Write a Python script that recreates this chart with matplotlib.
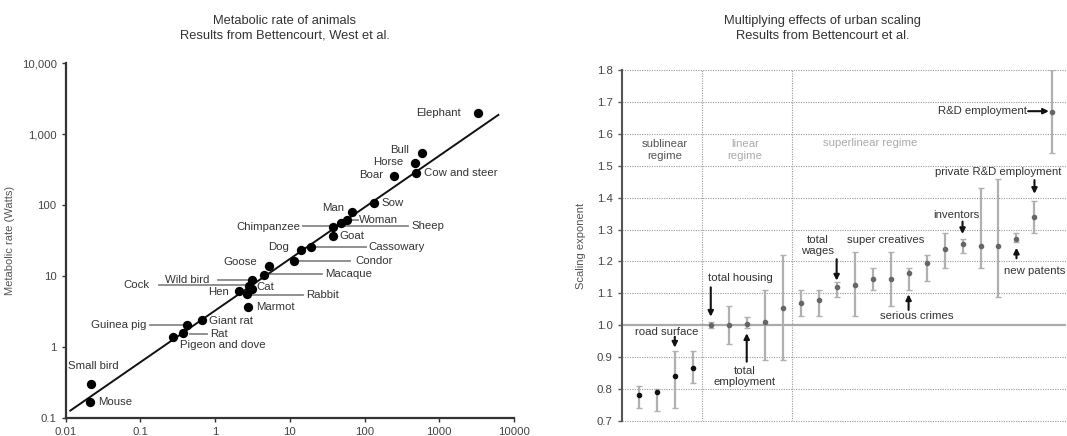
import matplotlib.pyplot as plt
from matplotlib.transforms import offset_copy

plt.rcParams['font.family'] = ['Liberation Sans', 'DejaVu Sans']

# ---- left chart data: body mass (kg) vs metabolic rate (W)
animals = ['Elephant', 'Bull', 'Horse', 'Boar', 'Cow and steer', 'Sow', 'Man',
           'Woman', 'Sheep', 'Chimpanzee', 'Goat', 'Cassowary', 'Dog', 'Condor',
           'Goose', 'Macaque', 'Wild bird', 'Cock', 'Cat', 'Hen', 'Rabbit',
           'Marmot', 'Giant rat', 'Guinea pig', 'Rat', 'Pigeon and dove',
           'Small bird', 'Mouse']
mass = [3335, 594, 479, 246, 484, 134, 68.7, 57.8, 48, 37.5, 38.2, 19, 14.1, 11.4,
        5.32, 4.56, 3.09, 2.88, 3.09, 2.11, 2.65, 2.78, 0.668, 0.42, 0.37, 0.275,
        0.0216, 0.0213]
watts = [1995, 547, 395, 256, 280, 107, 80.5, 61.4, 55, 49.5, 36.9, 25.8, 23.2, 16.4,
         13.9, 10.2, 8.7, 7.2, 6.5, 6.1, 5.5, 3.6, 2.39, 2.01, 1.55, 1.39, 0.30, 0.17]
fit_x = [0.0115, 6180]
fit_y = [0.127, 1858]

# label placement in pixels: (dx, dy, ha, leader from, leader to)
label_pos = {
    'Elephant': (-17, 0, 'right', None), 'Bull': (-13, 3, 'right', None),
    'Horse': (-12, 1, 'right', None), 'Boar': (-11, 1, 'right', None),
    'Cow and steer': (8, 0, 'left', None), 'Sow': (7, 0, 'left', None),
    'Man': (-8, 4, 'right', None), 'Woman': (12, 0, 'left', (2, 11)),
    'Sheep': (71, -3, 'left', (-38, 67)), 'Chimpanzee': (-32, 0, 'right', None),
    'Goat': (6, 0, 'left', None), 'Cassowary': (58, 0, 'left', (3, 55)),
    'Dog': (-12, 3, 'right', None), 'Condor': (61, 0, 'left', (4, 56)),
    'Goose': (-12, 4, 'right', None), 'Macaque': (61, 1, 'left', (6, 58)),
    'Wild bird': (-42, 0, 'right', (-34, -2)), 'Cock': (-100, 1, 'right', (-90, -1)),
    'Cat': (5, 2, 'left', None), 'Hen': (-10, -1, 'right', None),
    'Rabbit': (59, -1, 'left', (2, 56)), 'Marmot': (8, 0, 'left', None),
    'Giant rat': (7, -1, 'left', None), 'Guinea pig': (-41, 0, 'right', (-37, -2)),
    'Rat': (27, -1, 'left', (7, 24)), 'Pigeon and dove': (7, -8, 'left', None),
    'Small bird': (-23, 18, 'left', None), 'Mouse': (8, 0, 'left', None),
}

# ---- right chart data: scaling exponents with confidence intervals
beta = [0.78, 0.79, 0.84, 0.865, 1.0, 1.0, 1.005, 1.01, 1.055, 1.07, 1.08, 1.12,
        1.125, 1.145, 1.145, 1.165, 1.195, 1.24, 1.255, 1.25, 1.25, 1.27, 1.34, 1.67]
beta_lo = [0.74, 0.73, 0.74, 0.82, 0.99, 0.94, 0.99, 0.89, 0.89, 1.03, 1.03, 1.09,
           1.03, 1.11, 1.06, 1.11, 1.14, 1.18, 1.225, 1.18, 1.09, 1.26, 1.29, 1.54]
beta_hi = [0.81, 0.80, 0.92, 0.92, 1.01, 1.06, 1.025, 1.11, 1.22, 1.11, 1.11, 1.135,
           1.23, 1.18, 1.23, 1.18, 1.22, 1.29, 1.27, 1.43, 1.46, 1.29, 1.39, 1.80]
y_ticks = [0.7, 0.8, 0.9, 1.0, 1.1, 1.2, 1.3, 1.4, 1.5, 1.6, 1.7, 1.8]

fig = plt.figure(figsize=(10.67, 4.36), dpi=100)

# ================= left: metabolic rate =================
ax = fig.add_axes([0.0616, 0.0413, 0.4201, 0.8142])
ax.set_xscale('log')
ax.set_yscale('log')
ax.set_xlim(0.01, 10000)
ax.set_ylim(0.1, 10000)
ax.plot(fit_x, fit_y, color='#111111', lw=1.4, zorder=2)
ax.scatter(mass, watts, s=45, color='black', zorder=3, linewidths=0)

for name, x, y in zip(animals, mass, watts):
    dx, dy, ha, lead = label_pos[name]
    tr = offset_copy(ax.transData, fig=fig, x=dx, y=dy, units='dots')
    ax.text(x, y, name, transform=tr, ha=ha, va='center', fontsize=8.2, color='#333333')
    if lead:
        px, py = ax.transData.transform((x, y))
        p0 = ax.transData.inverted().transform((px + lead[0], py + dy))
        p1 = ax.transData.inverted().transform((px + lead[1], py + dy))
        ax.plot([p0[0], p1[0]], [p0[1], p1[1]], color='#888888', lw=1.3, zorder=1)

ax.set_xticks([0.01, 0.1, 1, 10, 100, 1000, 10000])
ax.set_xticklabels(['0.01', '0.1', '1', '10', '100', '1000', '10000'])
ax.set_yticks([0.1, 1, 10, 100, 1000, 10000])
ax.set_yticklabels(['0.1', '1', '10', '100', '1,000', '10,000'])
ax.minorticks_off()
for s in ['top', 'right']:
    ax.spines[s].set_visible(False)
for s in ['left', 'bottom']:
    ax.spines[s].set_color('#333333')
    ax.spines[s].set_linewidth(1.6)
ax.tick_params(labelsize=8.2, labelcolor='#444444', color='#333333', length=3, width=1)
ax.set_ylabel('Metabolic rate (Watts)', fontsize=8, color='#555555', labelpad=5)
fig.text(0.267, 0.965, 'Metabolic rate of animals\nResults from Bettencourt, West et al.',
         ha='center', va='top', fontsize=9.3, color='#333333', linespacing=1.3)

# ================= right: urban scaling =================
bx = fig.add_axes([0.5827, 0.0344, 0.4163, 0.805])
idx = list(range(len(beta)))
bx.set_xlim(-0.95, 23.75)
bx.set_ylim(0.7, 1.8)

for yv in y_ticks:
    if abs(yv - 1.0) < 1e-9:
        bx.axhline(yv, color='#aaaaaa', lw=1.6, zorder=1)
    else:
        bx.axhline(yv, color='#999999', lw=0.8, ls=(0, (1, 1.2)), zorder=1, clip_on=False)
for xv in [3.5, 8.5]:
    bx.axvline(xv, color='#999999', lw=0.8, ls=(0, (1, 1.2)), zorder=1)

for i in idx:
    mc = '#111111' if i < 4 else '#666666'
    bx.errorbar(i, beta[i], yerr=[[beta[i] - beta_lo[i]], [beta_hi[i] - beta[i]]],
                fmt='o', ms=3, color=mc, ecolor='#b0b0b0', elinewidth=1.6,
                capsize=2.5, capthick=1, zorder=3)

txt = dict(fontsize=8.2, ha='center', va='center')
bx.text(1.46, 1.549, 'sublinear\nregime', color='#555555', **txt)
bx.text(5.9, 1.549, 'linear\nregime', color='#aaaaaa', **txt)
bx.text(12.85, 1.570, 'superlinear regime', color='#aaaaaa', **txt)
bx.text(1.57, 0.98, 'road surface', color='#333333', **txt)
bx.text(5.64, 1.147, 'total housing', color='#333333', **txt)
bx.text(5.9, 0.839, 'total\nemployment', color='#333333', **txt)
bx.text(9.92, 1.25, 'total\nwages', color='#333333', **txt)
bx.text(13.74, 1.267, 'super creatives', color='#333333', **txt)
bx.text(15.46, 1.029, 'serious crimes', color='#333333', **txt)
bx.text(17.67, 1.347, 'inventors', color='#333333', **txt)
bx.text(20.0, 1.479, 'private R&D employment', color='#333333', **txt)
bx.text(22.0, 1.171, 'new patents', color='#333333', **txt)
bx.text(21.59, 1.671, 'R&D employment', color='#333333', fontsize=8.2, ha='right', va='center')

arrows = [((2, 0.964), (2, 0.930)), ((4, 1.119), (4, 1.027)), ((6, 0.886), (6, 0.975)),
          ((11, 1.207), (11, 1.140)), ((15, 1.048), (15, 1.097)), ((18, 1.325), (18, 1.286)),
          ((22, 1.455), (22, 1.412)), ((21, 1.210), (21, 1.243)),
          ((21.65, 1.671), (22.8, 1.671))]
for tail, tip in arrows:
    bx.annotate('', xy=tip, xytext=tail,
                arrowprops=dict(arrowstyle='-|>', color='#111111', lw=1.5,
                                mutation_scale=8, shrinkA=0, shrinkB=0))

bx.set_xticks([])
bx.set_yticks(y_ticks)
bx.set_yticklabels([f'{v:.1f}' for v in y_ticks])
for s in ['top', 'right', 'bottom']:
    bx.spines[s].set_visible(False)
bx.spines['left'].set_color('#555555')
bx.spines['left'].set_linewidth(1.5)
bx.tick_params(labelsize=8.2, labelcolor='#444444', color='#555555', length=3, width=1)
bx.set_ylabel('Scaling exponent', fontsize=8, color='#555555', labelpad=8)
fig.text(0.771, 0.965, 'Multiplying effects of urban scaling\nResults from Bettencourt et al.',
         ha='center', va='top', fontsize=9.3, color='#333333', linespacing=1.3)

fig.savefig('out.png', dpi=100)
